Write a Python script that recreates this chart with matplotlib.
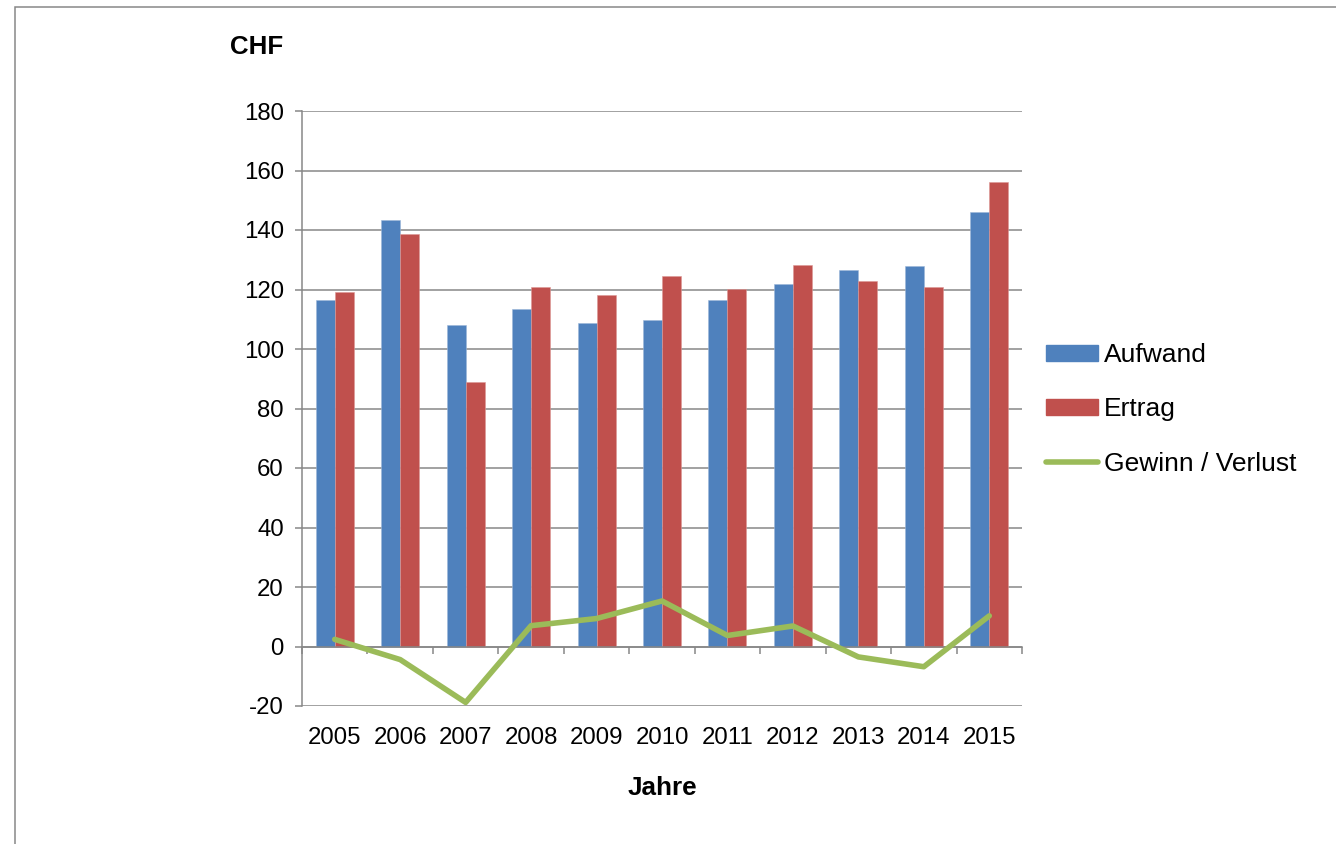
import matplotlib.pyplot as plt
import matplotlib.patches as patches
from matplotlib.lines import Line2D
import numpy as np

# ── Data ────────────────────────────────────────────────────
jahre = ['2005', '2006', '2007', '2008', '2009', '2010',
         '2011', '2012', '2013', '2014', '2015']
aufwand = [116.6, 143.5, 107.9, 113.6, 108.6, 109.6, 116.6, 121.7, 126.7, 128.0, 145.9]
ertrag = [119.0, 138.8, 89.0, 120.7, 118.0, 124.7, 120.3, 128.4, 123.0, 121.0, 156.0]
gewinn = [2.4, -4.4, -18.8, 7.0, 9.4, 15.3, 3.7, 6.9, -3.5, -6.8, 10.3]

blue = '#4F81BD'
red = '#C0504D'
green = '#9BBB59'
grey = '#878787'

plt.rcParams['font.family'] = ['Liberation Sans', 'DejaVu Sans']
plt.rcParams['axes.unicode_minus'] = False

fig = plt.figure(figsize=(13.36, 8.44), dpi=100)
ax = fig.add_axes([302 / 1336, 1 - 706 / 844, 720 / 1336, 595 / 844])

x = np.arange(len(jahre))
w = 0.29
ax.bar(x - w / 2, aufwand, w, color=blue, edgecolor='#9db7d9', linewidth=0.4, zorder=2)
ax.bar(x + w / 2, ertrag, w, color=red, edgecolor='#dc9896', linewidth=0.4, zorder=2)
ax.plot(x, gewinn, color=green, linewidth=4.0, solid_capstyle='round', zorder=3)

ax.set_xlim(-0.5, len(jahre) - 0.5)
ax.set_ylim(-20, 180)
ax.set_yticks(range(-20, 181, 20))
ax.grid(axis='y', color=grey, linewidth=1.1, zorder=0)
ax.set_axisbelow(True)

# axes styling
for s in ['top', 'right']:
    ax.spines[s].set_visible(False)
ax.spines['left'].set_color(grey)
ax.spines['left'].set_linewidth(1.1)
ax.spines['bottom'].set_position(('data', 0))
ax.spines['bottom'].set_color(grey)
ax.spines['bottom'].set_linewidth(1.1)

ax.set_xticks(x)
ax.set_xticklabels(jahre)
ax.set_xticks(np.arange(-0.5, len(jahre), 1.0), minor=True)
ax.tick_params(axis='x', which='major', length=0, pad=58, labelsize=17.3)
ax.tick_params(axis='x', which='minor', length=5, width=1.1, color=grey)
ax.tick_params(axis='y', length=5, width=1.1, color=grey, pad=8, labelsize=17.3)

fig.text(257 / 1336, 1 - 47 / 844, 'CHF', fontsize=18.6, fontweight='bold',
         ha='center', va='center')
fig.text(662 / 1336, 1 - 788 / 844, 'Jahre', fontsize=18.8, fontweight='bold',
         ha='center', va='center')

handles = [patches.Patch(color=blue), patches.Patch(color=red),
           Line2D([], [], color=green, linewidth=4.0, solid_capstyle='round')]
fig.legend(handles, ['Aufwand', 'Ertrag', 'Gewinn / Verlust'],
           loc='center left', bbox_to_anchor=(1046 / 1336, 1 - 409.5 / 844),
           frameon=False, fontsize=19, handlelength=1.97, handleheight=0.53,
           handletextpad=0.23, labelspacing=1.14, borderpad=0, borderaxespad=0)

# outer chart frame
fig.patches.append(patches.Rectangle((15 / 1336, -0.1), 2, 1.1 - 7 / 844,
                                     transform=fig.transFigure, fill=False,
                                     edgecolor=grey, linewidth=1.1))

plt.savefig('out.png', dpi=100)
